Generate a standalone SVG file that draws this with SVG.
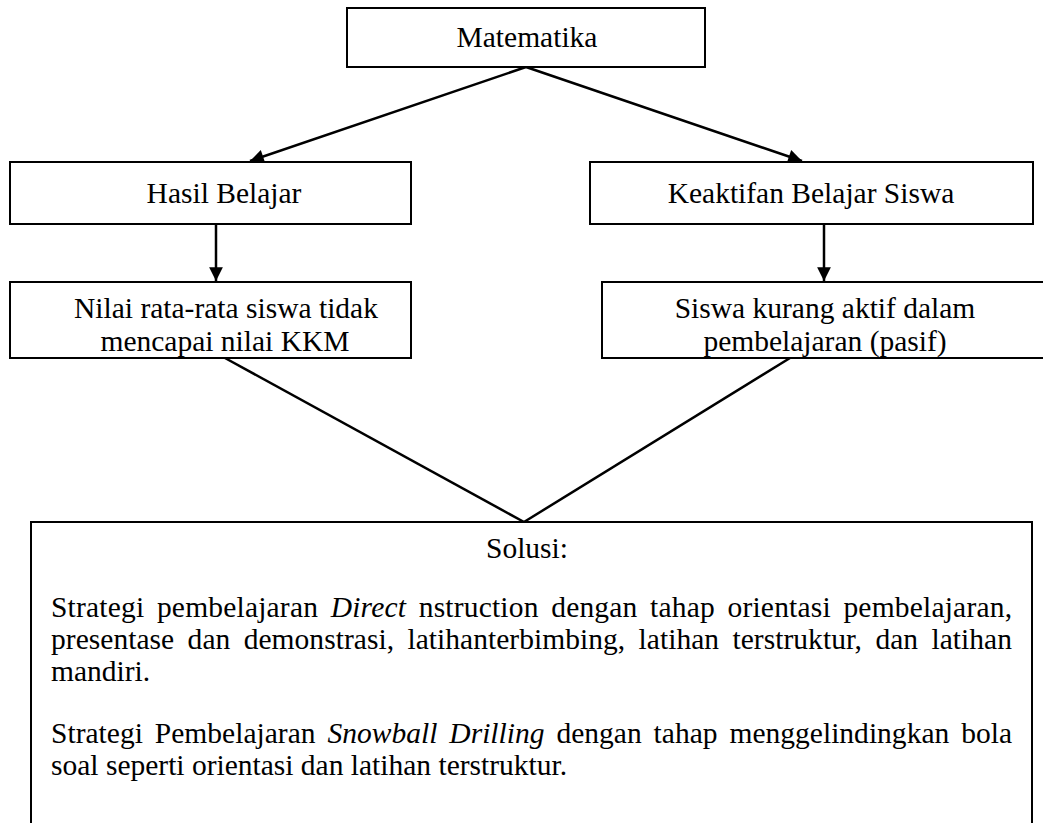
<svg xmlns="http://www.w3.org/2000/svg" width="1043" height="823" viewBox="0 0 1043 823">
<defs>
<style>
.box{fill:#fff;stroke:#000;stroke-width:2}
.t{font-family:"Liberation Serif","Times New Roman",serif;font-size:29.5px;fill:#000}
.c{text-anchor:middle}
.con{stroke:#000;stroke-width:2.5;fill:none}
</style>
<marker id="ah" viewBox="0 0 10 10" refX="10" refY="5" markerWidth="6" markerHeight="5.5" orient="auto" markerUnits="strokeWidth">
<path d="M0,0 L10,5 L0,10 z" fill="#000"/>
</marker>
</defs>
<rect width="1043" height="823" fill="#fff"/>
<g id="connectors">
<line class="con" x1="526" y1="67" x2="250" y2="161" marker-end="url(#ah)"/>
<line class="con" x1="526" y1="67" x2="802" y2="161" marker-end="url(#ah)"/>
<line class="con" x1="216" y1="224" x2="216" y2="281" marker-end="url(#ah)"/>
<line class="con" x1="824" y1="224" x2="824" y2="281" marker-end="url(#ah)"/>
<line class="con" x1="225" y1="358" x2="524" y2="522"/>
<line class="con" x1="790" y1="358" x2="524" y2="522"/>
</g>
<g id="matematika">
<rect class="box" x="347" y="8" width="358" height="59"/>
<text class="t c" x="527" y="47">Matematika</text>
</g>
<g id="hasil">
<rect class="box" x="10" y="162" width="401" height="62"/>
<text class="t c" x="224" y="203">Hasil Belajar</text>
</g>
<g id="keaktifan">
<rect class="box" x="590" y="162" width="443" height="62"/>
<text class="t c" x="811" y="203">Keaktifan Belajar Siswa</text>
</g>
<g id="nilai">
<rect class="box" x="10" y="282" width="401" height="76"/>
<text class="t c" x="226" y="318">Nilai rata-rata siswa tidak</text>
<text class="t c" x="225" y="351">mencapai nilai KKM</text>
</g>
<g id="siswa">
<rect class="box" x="602" y="282" width="446" height="76"/>
<text class="t c" x="825" y="318">Siswa kurang aktif dalam</text>
<text class="t c" x="825" y="351">pembelajaran (pasif)</text>
</g>
<g id="solusi">
<rect class="box" x="31" y="522" width="1001" height="320" stroke-width="2.5"/>
<text class="t c" x="527" y="558">Solusi:</text>
<text class="t" x="51" y="617" word-spacing="5" textLength="961" lengthAdjust="spacing">Strategi pembelajaran <tspan font-style="italic">Direct</tspan> nstruction dengan tahap orientasi pembelajaran,</text>
<text class="t" x="51" y="649" word-spacing="6" textLength="961" lengthAdjust="spacing">presentase dan demonstrasi, latihanterbimbing, latihan terstruktur, dan latihan</text>
<text class="t" x="51" y="681">mandiri.</text>
<text class="t" x="51" y="743" word-spacing="4.5" textLength="961" lengthAdjust="spacing">Strategi Pembelajaran <tspan font-style="italic">Snowball Drilling</tspan> dengan tahap menggelindingkan bola</text>
<text class="t" x="51" y="775">soal seperti orientasi dan latihan terstruktur.</text>
</g>
</svg>
